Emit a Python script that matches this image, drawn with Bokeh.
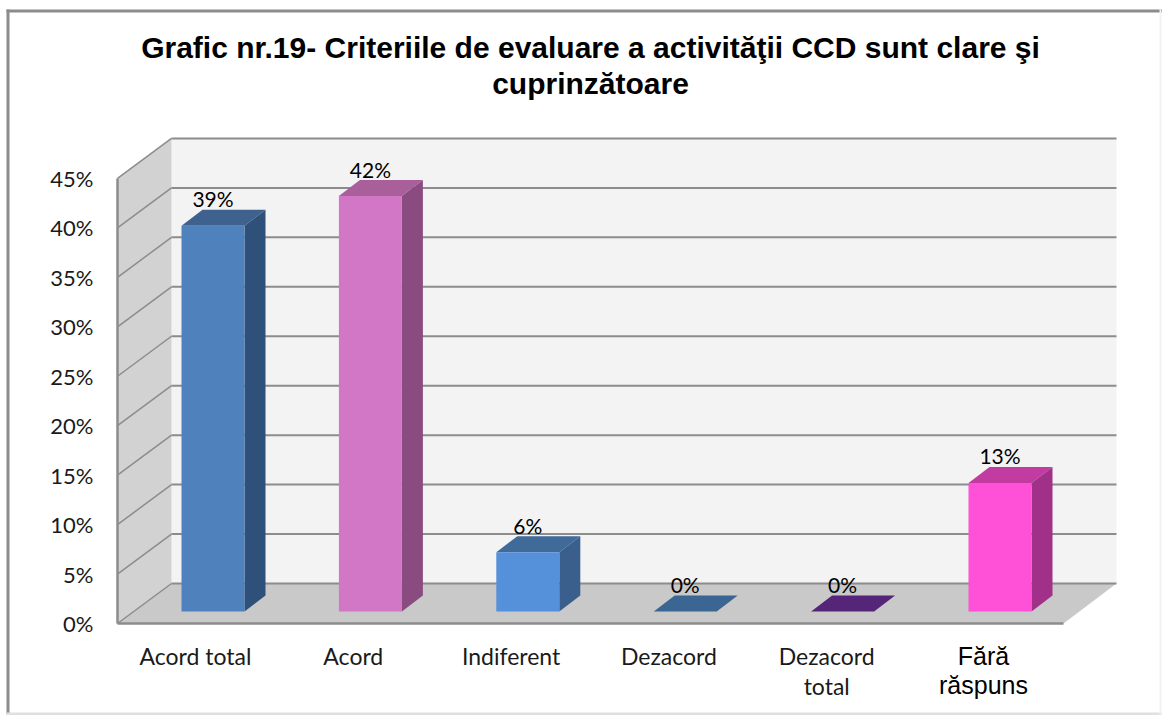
from bokeh.embed import file_html
from bokeh.resources import INLINE
from bokeh.plotting import figure
from bokeh.models import (Range1d, LinearAxis, FixedTicker, Label, BoxAnnotation)
from bokeh.core.properties import value

categories = ["Acord total", "Acord", "Indiferent", "Dezacord", "Dezacord\ntotal", "Fără\nrăspuns"]
values = [39, 42, 6, 0, 0, 13]
value_labels = ["39%", "42%", "6%", "0%", "0%", "13%"]
y_ticks = [0, 5, 10, 15, 20, 25, 30, 35, 40, 45]
title_lines = ["Grafic nr.19- Criteriile de evaluare a activităţii CCD sunt clare şi", "cuprinzătoare"]
front_colors = ["#4f81bd", "#d277c6", "#5590da", "#3f6a9a", "#55257a", "#ff50d8"]
top_colors = ["#3e618e", "#a85f9a", "#3f6a9a", "#3b6592", "#55257a", "#c23ba0"]
side_colors = ["#2f5078", "#8a4c80", "#3a5f8c", "#3b6592", "#55257a", "#a13089"]

# scale: pixels per category and per percent
PX_X = 157.4
PX_Y = 9.89
W, H = 1162, 715
X0, Y0 = 212.5, 623                # page pixel of category 0 / of 0 %


def dx(px):
    return px / PX_X


def dy(px):
    return px / PX_Y


def page_x(px):
    return (px - X0) / PX_X


def page_y(py):
    return (Y0 - py) / PX_Y


p = figure(width=W, height=H, output_backend="svg", toolbar_location=None,
           x_range=Range1d(page_x(0), page_x(W)),
           y_range=Range1d(page_y(H), page_y(0)),
           min_border=0,
           x_axis_location=None, y_axis_location=None,
           background_fill_color="white", border_fill_color="white", outline_line_color=None)
p.grid.visible = False

# chart-area border
GRAY = "#8c8c8c"
for (l, r, t, b, c) in [(6, 9, 9, 714, GRAY), (6, 1162, 9, 12, GRAY),
                        (6, 1162, 712, 715, "#e0e0e0"), (1159, 1161, 9, 714, "#f2f2f2")]:
    p.add_layout(BoxAnnotation(left=l, right=r, top=t, bottom=b, left_units="canvas",
                               right_units="canvas", top_units="canvas", bottom_units="canvas",
                               fill_color=c, fill_alpha=1, line_color=None, level="underlay"))

# walls and floor
x_front_l = page_x(117)
x_back_l = page_x(171)
x_back_r = page_x(1116)
x_front_r = page_x(1063)
wall_dy = dy(40)
top_v = y_ticks[-1]
p.patch([x_back_l, x_back_r, x_back_r, x_back_l], [wall_dy, wall_dy, top_v + wall_dy, top_v + wall_dy],
        fill_color="#f3f3f3", line_color=None)
p.patch([x_front_l, x_back_l, x_back_l, x_front_l], [0, wall_dy, top_v + wall_dy, top_v],
        fill_color="#d2d2d2", line_color=None)
p.patch([x_front_l, x_back_l, x_back_r, x_front_r], [0, wall_dy, wall_dy, 0],
        fill_color="#c9c9c9", line_color=None)

# grid lines on back and left wall
p.segment([x_back_l] * len(y_ticks), [v + wall_dy for v in y_ticks],
          [x_back_r] * len(y_ticks), [v + wall_dy for v in y_ticks],
          line_color=GRAY, line_width=2)
p.segment([x_front_l] * len(y_ticks), y_ticks,
          [x_back_l] * len(y_ticks), [v + wall_dy for v in y_ticks],
          line_color=GRAY, line_width=1.5)
p.segment([x_front_l, x_front_l], [0, 0], [x_front_l, x_front_r], [top_v, 0],
          line_color=GRAY, line_width=2.5)

# 3-D columns
half = dx(31.5)
ddx, ddy = dx(21), dy(16)
base = dy(12)
idx = list(range(len(values)))
bottoms = [base] * len(values)
tops = [v + base for v in values]

p.patches([[i - half, i + half, i + half + ddx, i - half + ddx] for i in idx],
          [[t, t, t + ddy, t + ddy] for t in tops],
          fill_color=top_colors, line_color=None)
p.patches([[i + half, i + half + ddx, i + half + ddx, i + half] for i in idx],
          [[b, b + ddy, t + ddy, t] for b, t in zip(bottoms, tops)],
          fill_color=side_colors, line_color=None)
p.quad(left=[i - half for i in idx], right=[i + half for i in idx], bottom=bottoms, top=tops,
       fill_color=front_colors, line_color=None)

# value labels
p.text(x=idx, y=tops, text=value_labels, text_font=value("Lato"), text_font_size="21px",
       text_color="#000000", text_align="center", text_baseline="middle", y_offset=-27)

# axes
yaxis = LinearAxis(ticker=FixedTicker(ticks=y_ticks), fixed_location=page_x(115),
                   major_label_overrides={v: f"{v}%" for v in y_ticks})
yaxis.axis_line_color = None
yaxis.major_tick_line_color = None
yaxis.minor_tick_line_color = None
yaxis.major_tick_in = 0
yaxis.major_tick_out = 0
yaxis.major_label_standoff = 22
yaxis.major_label_text_font = "Lato"
yaxis.major_label_text_font_size = "22px"
yaxis.major_label_text_color = "#1a1a1a"
p.add_layout(yaxis, "left")

LBL_X0, LBL_PX = 195, 157.8
p.extra_x_ranges["labels"] = Range1d((0 - LBL_X0) / LBL_PX, (W - LBL_X0) / LBL_PX)
xaxis = LinearAxis(x_range_name="labels", ticker=FixedTicker(ticks=idx[:-1]), fixed_location=page_y(626),
                   major_label_overrides={i: categories[i] for i in idx[:-1]})
xaxis.axis_line_color = None
xaxis.major_tick_line_color = None
xaxis.minor_tick_line_color = None
xaxis.major_tick_in = 0
xaxis.major_tick_out = 0
xaxis.major_label_standoff = 15
xaxis.major_label_text_font = "Lato"
xaxis.major_label_text_font_size = "23px"
xaxis.major_label_text_color = "#1a1a1a"
xaxis.major_label_text_line_height = 1.1
p.add_layout(xaxis, "below")

# last category is set in another typeface in the reference
p.add_layout(Label(x=page_x(983), y=page_y(641), text=categories[-1],
                   text_font="Liberation Sans", text_font_size="25px", text_color="#000000",
                   text_align="center", text_baseline="top", text_line_height=1.05))

for line, py in zip(title_lines, [47, 83]):
    p.add_layout(Label(x=page_x(590), y=page_y(py), text=line,
                       text_font="Liberation Sans", text_font_size="30px", text_font_style="bold",
                       text_color="#000000", text_align="center", text_baseline="middle"))

open("out.html", "w").write(file_html(p, INLINE))
